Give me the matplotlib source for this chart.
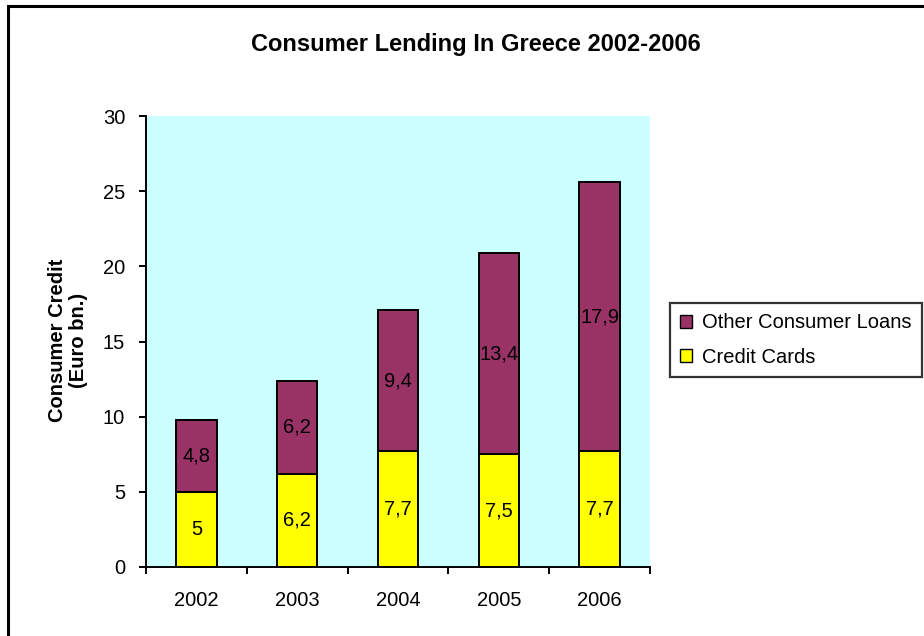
import matplotlib
matplotlib.use("Agg")
import matplotlib.pyplot as plt
from matplotlib.patches import Patch, Rectangle
import numpy as np

plt.rcParams['font.family'] = ['Liberation Sans', 'DejaVu Sans']

years = ["2002", "2003", "2004", "2005", "2006"]
credit_cards = [5, 6.2, 7.7, 7.5, 7.7]
other_loans = [4.8, 6.2, 9.4, 13.4, 17.9]
y_ticks = [0, 5, 10, 15, 20, 25, 30]

COL_CARDS = "#FFFF00"
COL_OTHER = "#993366"
COL_BG = "#CCFFFF"

W, H = 924, 636
fig = plt.figure(figsize=(W / 100, H / 100), dpi=100)

# chart-area frame (runs off the right and bottom edges)
fig.patches.append(Rectangle((8 / W, -0.1), 1.2, 1 - 6 / H + 0.1,
                             transform=fig.transFigure, fill=False,
                             edgecolor="black", linewidth=2.2, zorder=0))

left, right, top, bottom = 146, 650, 116, 567
ax = fig.add_axes([left / W, 1 - bottom / H, (right - left) / W, (bottom - top) / H])
ax.set_facecolor(COL_BG)

x = np.arange(len(years))
bw = 0.4
ax.bar(x, credit_cards, bw, color=COL_CARDS, edgecolor="black", linewidth=1.4, zorder=3)
ax.bar(x, other_loans, bw, bottom=credit_cards, color=COL_OTHER, edgecolor="black",
       linewidth=1.4, zorder=3)

fs = 14.5
for xi, c, o in zip(x, credit_cards, other_loans):
    ax.text(xi, c / 2, f"{c:g}".replace(".", ","), ha="center", va="center",
            fontsize=fs, color="black", zorder=4)
    ax.text(xi, c + o / 2, f"{o:g}".replace(".", ","), ha="center", va="center",
            fontsize=fs, color="black", zorder=4)

ax.set_xlim(-0.5, len(years) - 0.5)
ax.set_ylim(0, 30)
ax.set_yticks(y_ticks)
ax.set_xticks(x)
ax.set_xticklabels(years)
ax.set_xticks(np.arange(len(years) + 1) - 0.5, minor=True)
ax.tick_params(axis="x", which="major", length=0, pad=17, labelsize=fs)
ax.tick_params(axis="x", which="minor", length=5, width=1.4, direction="out")
ax.tick_params(axis="y", length=5, width=1.4, direction="out", pad=10, labelsize=fs)

for s in ("top", "right"):
    ax.spines[s].set_visible(False)
for s in ("left", "bottom"):
    ax.spines[s].set_linewidth(1.4)

fig.text(476 / W, 1 - 45 / H, "Consumer Lending In Greece 2002-2006",
         ha="center", va="center", fontsize=17, fontweight="bold")

fig.text(68 / W, 1 - 340 / H, "Consumer Credit\n(Euro bn.)", rotation=90,
         ha="center", va="center", fontsize=fs, fontweight="bold",
         multialignment="center", linespacing=1.15)

handles = [Patch(facecolor=COL_OTHER, edgecolor="black", linewidth=1.0),
           Patch(facecolor=COL_CARDS, edgecolor="black", linewidth=1.0)]
leg = fig.legend(handles, ["Other Consumer Loans", "Credit Cards"],
                 loc="center right", bbox_to_anchor=(922 / W, 1 - 340 / H),
                 fontsize=fs, frameon=True, fancybox=False, shadow=False,
                 handlelength=0.6, handleheight=0.6, handletextpad=0.5,
                 labelspacing=0.75, borderpad=0.5, borderaxespad=0)
leg.get_frame().set_edgecolor("black")
leg.get_frame().set_linewidth(1.6)

fig.savefig("out.png", dpi=100)
